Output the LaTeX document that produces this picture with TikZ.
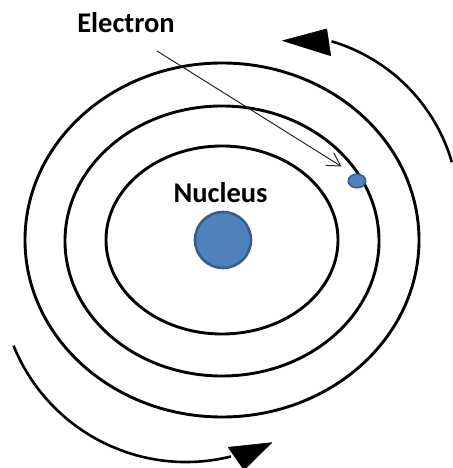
\documentclass[tikz,border=0pt]{standalone}
\usepackage{fontspec}
\setmainfont{Carlito}
\usetikzlibrary{arrows.meta}
\definecolor{nucfill}{HTML}{4F81BD}
\definecolor{nucdraw}{HTML}{385D8A}
\tikzset{
  orbit/.style={line width=2.9pt, draw=black},
  motion/.style={line width=2.6pt, draw=black},
  motionhead/.style={fill=black, draw=black, line width=0.6pt, line join=round},
  particle/.style={fill=nucfill, draw=nucdraw},
  lbl/.style={font=\bfseries\fontsize{28.5}{32}\selectfont, text=black, inner sep=0pt, anchor=base},
  pointer/.style={line width=1pt, draw=black!85, -{Straight Barb[length=13pt,width=15pt,line width=1pt]}}
}
\begin{document}
\begin{tikzpicture}[x=1pt,y=1pt]
\useasboundingbox (0,0) rectangle (452,468);
% orbits
\draw[orbit] (222,228) ellipse [x radius=116, y radius=94];
\draw[orbit] (222,227) ellipse [x radius=157, y radius=135];
\draw[orbit] (222,228) ellipse [x radius=197, y radius=177];
% nucleus and electron
\node[particle, circle, minimum size=56pt, inner sep=0pt, line width=2.6pt] (nuc) at (223,228) {};
\draw[particle, line width=1.6pt] (357,287) ellipse [x radius=8.7, y radius=6.8];
\coordinate (elec) at (357,287);
% labels
\node[lbl] (nuclbl) at (220.5,265) {Nucleus};
\node[lbl] (eleclbl) at (126,435) {Electron};
% pointer
\coordinate (pstart) at (157,417);
\coordinate (pend) at (341.5,301.5);
\draw[pointer] (pstart) -- (pend);
% motion arrows
\draw[motion] (281,256) ++(16.2:178) arc[start angle=16.2, end angle=73.5, radius=178];
\fill[motionhead] (282.7,427.3) -- (326.7,439) -- (330.7,412.3) -- cycle;
\draw[motion] (186,192) ++(202:186) arc[start angle=202, end angle=284, radius=186];
\fill[motionhead] (271.7,25.3) -- (228.3,20.7) -- (244,-2) -- cycle;
\end{tikzpicture}
\end{document}
